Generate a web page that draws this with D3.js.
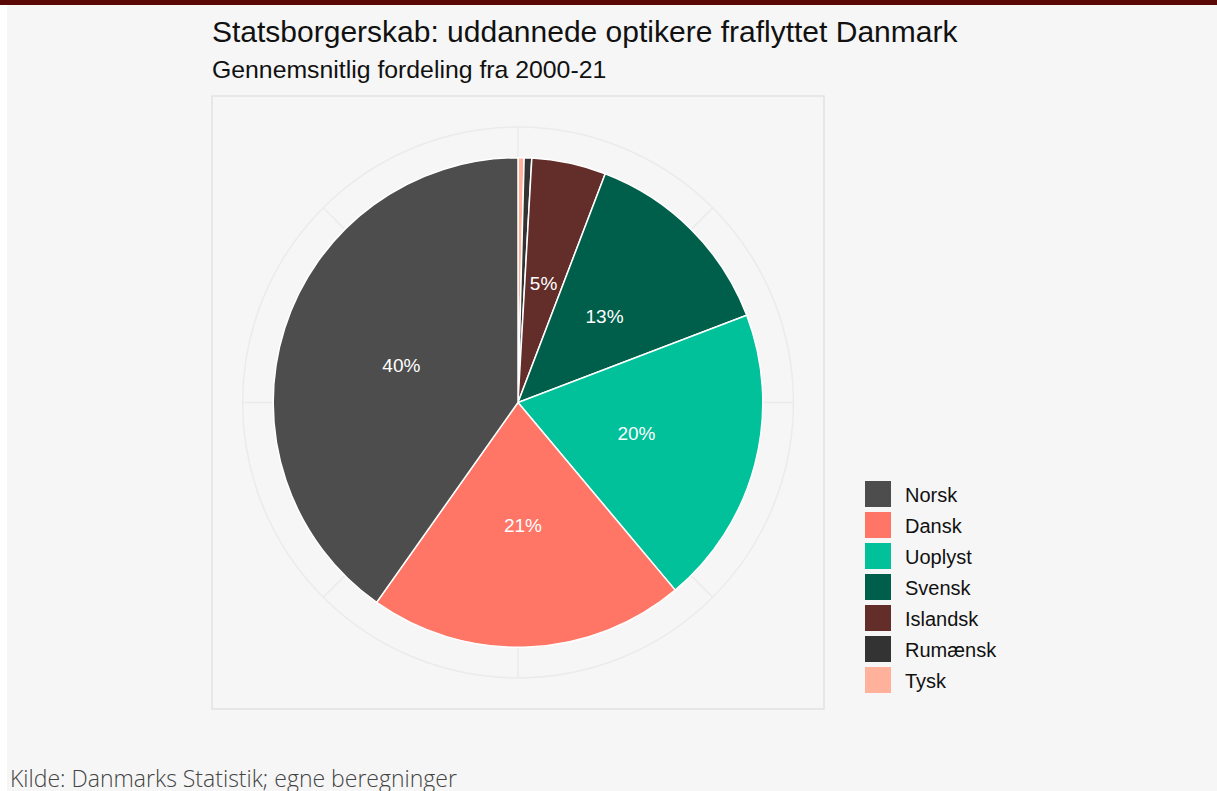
<!DOCTYPE html>
<html>
<head>
<meta charset="utf-8">
<script src="https://cdn.jsdelivr.net/npm/d3@7"></script>
<style>
  body { margin: 0; background: #fff; }
  svg { display: block; }
</style>
</head>
<body>
<svg id="chart"></svg>
<script>
// data (share in %)
const categories = ["Norsk", "Dansk", "Uoplyst", "Svensk", "Islandsk", "Rumænsk", "Tysk"];
const shares = [40.2, 20.9, 19.7, 13.4, 4.9, 0.5, 0.4];
const colors = ["#4d4d4d", "#ff7566", "#00c19a", "#005f4b", "#632e2a", "#333333", "#ffb19b"];

const width = 1217, height = 791;

const svg = d3.select("#chart")
    .attr("width", width)
    .attr("height", height);

// page background + top bar
svg.append("rect").attr("x", 7).attr("y", 0).attr("width", width - 7).attr("height", height).attr("fill", "#f6f6f6");
svg.append("rect").attr("x", 0).attr("y", 0).attr("width", width).attr("height", 5).attr("fill", "#5a0806");

// panel
const panel = { x: 212, y: 96, w: 612, h: 613 };
const cx = panel.x + panel.w / 2, cy = panel.y + panel.h / 2;
const R = 0.4 * panel.w;      // pie radius
const Rgrid = 0.45 * panel.w; // outer grid circle

svg.append("rect")
    .attr("x", panel.x).attr("y", panel.y)
    .attr("width", panel.w).attr("height", panel.h)
    .attr("fill", "none")
    .attr("stroke", "#e2e2e2")
    .attr("stroke-width", 1.5);

const g = svg.append("g").attr("transform", `translate(${cx},${cy})`);

// polar grid
g.append("circle").attr("r", Rgrid).attr("fill", "none").attr("stroke", "#ebebeb").attr("stroke-width", 1.5);
d3.range(0, 360, 45).forEach(a => {
    const t = a * Math.PI / 180;
    g.append("line")
        .attr("x1", 0).attr("y1", 0)
        .attr("x2", Rgrid * Math.sin(t)).attr("y2", -Rgrid * Math.cos(t))
        .attr("stroke", "#ebebeb").attr("stroke-width", 1.5);
});

// pie: ggplot stacks with last level first going clockwise from 12
const data = categories.map((c, i) => ({ cat: c, value: shares[i], color: colors[i] })).reverse();
const pie = d3.pie().sort(null).value(d => d.value);
const arc = d3.arc().innerRadius(0).outerRadius(R);
const labelArc = d3.arc().innerRadius(R / 2).outerRadius(R / 2);

const arcs = pie(data);

g.selectAll("path.slice")
    .data(arcs)
    .join("path")
    .attr("class", "slice")
    .attr("d", arc)
    .attr("fill", d => d.data.color)
    .attr("stroke", "#ffffff")
    .attr("stroke-width", 1.5);

g.selectAll("text.lab")
    .data(arcs.filter(d => d.data.value >= 4))
    .join("text")
    .attr("class", "lab")
    .attr("transform", d => `translate(${labelArc.centroid(d)})`)
    .attr("text-anchor", "middle")
    .attr("dy", "0.36em")
    .attr("fill", "#ffffff")
    .style("font-family", "'Liberation Sans', Arial, sans-serif")
    .style("font-size", "19px")
    .text(d => Math.round(d.data.value) + "%");

// titles
svg.append("text")
    .attr("x", 212).attr("y", 42)
    .style("font-family", "'Liberation Sans', Arial, sans-serif")
    .style("font-size", "30px")
    .attr("fill", "#111")
    .text("Statsborgerskab: uddannede optikere fraflyttet Danmark");

svg.append("text")
    .attr("x", 212).attr("y", 78)
    .style("font-family", "'Liberation Sans', Arial, sans-serif")
    .style("font-size", "24.8px")
    .attr("fill", "#111")
    .text("Gennemsnitlig fordeling fra 2000-21");

// legend
const legend = svg.append("g").attr("transform", "translate(865,481)");
legend.selectAll("rect")
    .data(categories)
    .join("rect")
    .attr("x", 0)
    .attr("y", (d, i) => i * 31)
    .attr("width", 26)
    .attr("height", 26)
    .attr("fill", (d, i) => colors[i]);

legend.selectAll("text")
    .data(categories)
    .join("text")
    .attr("x", 40)
    .attr("y", (d, i) => i * 31 + 21)
    .style("font-family", "'Liberation Sans', Arial, sans-serif")
    .style("font-size", "20px")
    .attr("fill", "#111")
    .text(d => d);

// caption
svg.append("text")
    .attr("x", 10).attr("y", 787)
    .style("font-family", "'Open Sans', sans-serif")
    .style("font-size", "23px")
    .style("font-weight", 300)
    .attr("fill", "#444")
    .text("Kilde: Danmarks Statistik; egne beregninger");
</script>
</body>
</html>
